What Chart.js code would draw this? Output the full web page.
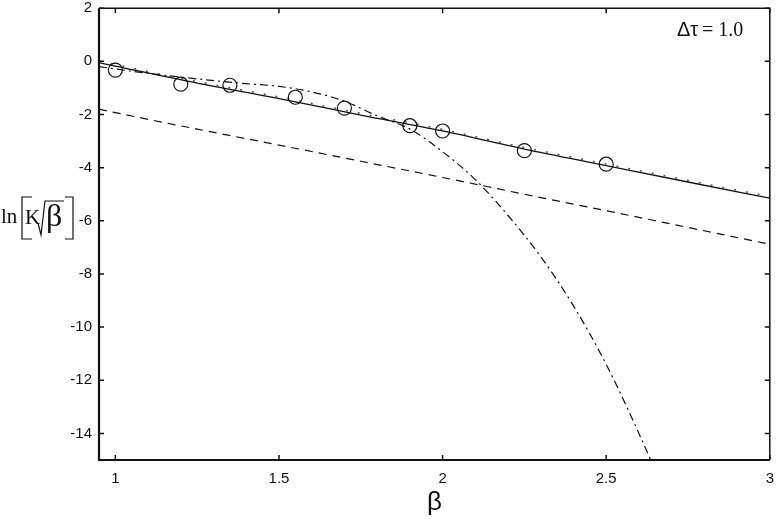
<!DOCTYPE html>
<html>
<head>
<meta charset="utf-8">
<script src="https://cdn.jsdelivr.net/npm/chart.js@4.4.0/dist/chart.umd.min.js"></script>
<style>
  html, body { margin: 0; padding: 0; background: #fff; }
  #wrap { width: 778px; height: 521px; }
</style>
</head>
<body>
<div id="wrap"><canvas id="chart" width="778" height="521"></canvas></div>
<script>
// measured points (circles)
const betaPts = [1.0, 1.2, 1.35, 1.55, 1.7, 1.9, 2.0, 2.25, 2.5];
const lnPts   = [-0.33, -0.86, -0.9, -1.35, -1.76, -2.42, -2.62, -3.36, -3.87];

// straight-ish curves
const betaLine = [0.95, 1.0, 1.25, 1.5, 1.75, 2.0, 2.25, 2.5, 2.75, 3.0];
const solidY   = [-0.05, -0.18, -0.82, -1.40, -2.02, -2.62, -3.30, -3.92, -4.54, -5.15];
const dottedY  = [0.02, -0.12, -0.76, -1.34, -1.96, -2.56, -3.24, -3.86, -4.48, -5.09];
const dashedY  = [-1.80, -1.93, -2.55, -3.15, -3.76, -4.37, -5.00, -5.62, -6.25, -6.88];

// dash-dot curve
const betaDD = [0.95, 1.1, 1.25, 1.4, 1.5, 1.6, 1.7, 1.8, 1.9, 2.0, 2.1, 2.2, 2.3, 2.4, 2.5, 2.6, 2.65];
const ddY    = [-0.2, -0.45, -0.66, -0.84, -0.94, -1.15, -1.5, -2.05, -2.55, -3.4, -4.45, -5.8, -7.35, -9.2, -11.4, -14.0, -15.4];

const xTicks = [1, 1.5, 2, 2.5, 3];
const yTicks = [2, 0, -2, -4, -6, -8, -10, -12, -14];

const pts = (xs, ys) => xs.map((x, i) => ({ x: x, y: ys[i] }));
const ink = "#111";

// frame + inward ticks on all four sides
const framePlugin = {
    id: "frame",
    afterDraw(chart) {
        const { ctx, chartArea: a, scales } = chart;
        ctx.save();
        ctx.strokeStyle = ink;
        ctx.lineWidth = 1.5;
        ctx.beginPath();
        ctx.moveTo(a.left, a.top); ctx.lineTo(a.right, a.top); ctx.lineTo(a.right, a.bottom);
        ctx.stroke();
        ctx.lineWidth = 2.2;
        ctx.beginPath();
        ctx.moveTo(a.left, a.top); ctx.lineTo(a.left, a.bottom); ctx.lineTo(a.right, a.bottom);
        ctx.stroke();
        ctx.lineWidth = 1.5;
        ctx.beginPath();
        xTicks.forEach(v => {
            const px = scales.x.getPixelForValue(v);
            ctx.moveTo(px, a.bottom); ctx.lineTo(px, a.bottom - 5);
            ctx.moveTo(px, a.top); ctx.lineTo(px, a.top + 5);
        });
        yTicks.forEach(v => {
            const py = scales.y.getPixelForValue(v);
            ctx.moveTo(a.left, py); ctx.lineTo(a.left + 5, py);
            ctx.moveTo(a.right, py); ctx.lineTo(a.right - 5, py);
        });
        ctx.stroke();

        // annotation
        ctx.fillStyle = ink;
        ctx.textBaseline = "alphabetic";
        ctx.textAlign = "left";
        ctx.font = "20px 'Liberation Sans'";
        ctx.fillText("\u0394\u03c4", 677, 36);
        ctx.font = "20px 'Liberation Serif'";
        ctx.fillText("= 1.0", 702, 36);

        // y label: ln[K sqrt(beta)]
        ctx.font = "21px 'Liberation Serif'";
        ctx.fillText("ln", 1, 223);
        ctx.fillText("K", 25, 224);
        ctx.font = "32px 'Liberation Serif'";
        ctx.fillText("\u03b2", 46, 226);
        ctx.lineWidth = 1.2;
        ctx.beginPath();
        // left bracket
        ctx.moveTo(32, 197); ctx.lineTo(22, 197); ctx.lineTo(22, 239); ctx.lineTo(32, 239);
        // right bracket
        ctx.moveTo(65, 197); ctx.lineTo(73, 197); ctx.lineTo(73, 239); ctx.lineTo(65, 239);
        // radical
        ctx.moveTo(38, 223); ctx.lineTo(41, 235); ctx.lineTo(45, 201); ctx.lineTo(64, 201);
        ctx.stroke();
        ctx.restore();
    }
};

new Chart(document.getElementById("chart"), {
    type: "scatter",
    data: {
        datasets: [
            {
                label: "data",
                data: pts(betaPts, lnPts),
                showLine: false,
                pointStyle: "circle",
                pointRadius: 7,
                pointBorderWidth: 1.2,
                pointBorderColor: ink,
                pointBackgroundColor: "rgba(0,0,0,0)"
            },
            {
                label: "solid",
                data: pts(betaLine, solidY),
                showLine: true,
                borderColor: ink,
                borderWidth: 1.3,
                pointRadius: 0,
                cubicInterpolationMode: "monotone"
            },
            {
                label: "dotted",
                data: pts(betaLine, dottedY),
                showLine: true,
                borderColor: "#555",
                borderWidth: 1.5,
                borderDash: [2, 10],
                pointRadius: 0,
                cubicInterpolationMode: "monotone"
            },
            {
                label: "dashed",
                data: pts(betaLine, dashedY),
                showLine: true,
                borderColor: ink,
                borderWidth: 1.2,
                borderDash: [8, 6],
                pointRadius: 0,
                cubicInterpolationMode: "monotone"
            },
            {
                label: "dashdot",
                data: pts(betaDD, ddY),
                showLine: true,
                borderColor: ink,
                borderWidth: 1.2,
                borderDash: [8, 4, 2, 4],
                pointRadius: 0,
                cubicInterpolationMode: "monotone"
            }
        ]
    },
    options: {
        responsive: false,
        animation: false,
        layout: { padding: { top: 8, right: 5, left: 0, bottom: 0 } },
        plugins: {
            legend: { display: false },
            tooltip: { enabled: false }
        },
        scales: {
            x: {
                type: "linear",
                min: 0.95,
                max: 3,
                afterBuildTicks: (s) => { s.ticks = xTicks.map(v => ({ value: v })); },
                afterFit: (s) => {
                    s.height = 61;
                    s.paddingLeft = 0;
                    s.paddingRight = 0;
                },
                grid: { display: false, drawTicks: false },
                border: { display: false },
                ticks: {
                    color: ink,
                    padding: 10,
                    maxRotation: 0,
                    callback: (v) => String(v),
                    font: { family: "'Liberation Sans'", size: 15 }
                },
                title: {
                    display: true,
                    text: "\u03b2",
                    color: ink,
                    padding: { top: 0, bottom: 3 },
                    font: { family: "'Liberation Sans'", size: 26 }
                }
            },
            y: {
                type: "linear",
                min: -15,
                max: 2,
                afterBuildTicks: (s) => { s.ticks = yTicks.map(v => ({ value: v })); },
                afterFit: (s) => {
                    s.width = 99;
                    s.paddingTop = 0;
                    s.paddingBottom = 0;
                },
                grid: { display: false, drawTicks: false },
                border: { display: false },
                ticks: {
                    color: ink,
                    padding: 7,
                    callback: (v) => String(v),
                    font: { family: "'Liberation Sans'", size: 15 }
                }
            }
        }
    },
    plugins: [framePlugin]
});
</script>
</body>
</html>
